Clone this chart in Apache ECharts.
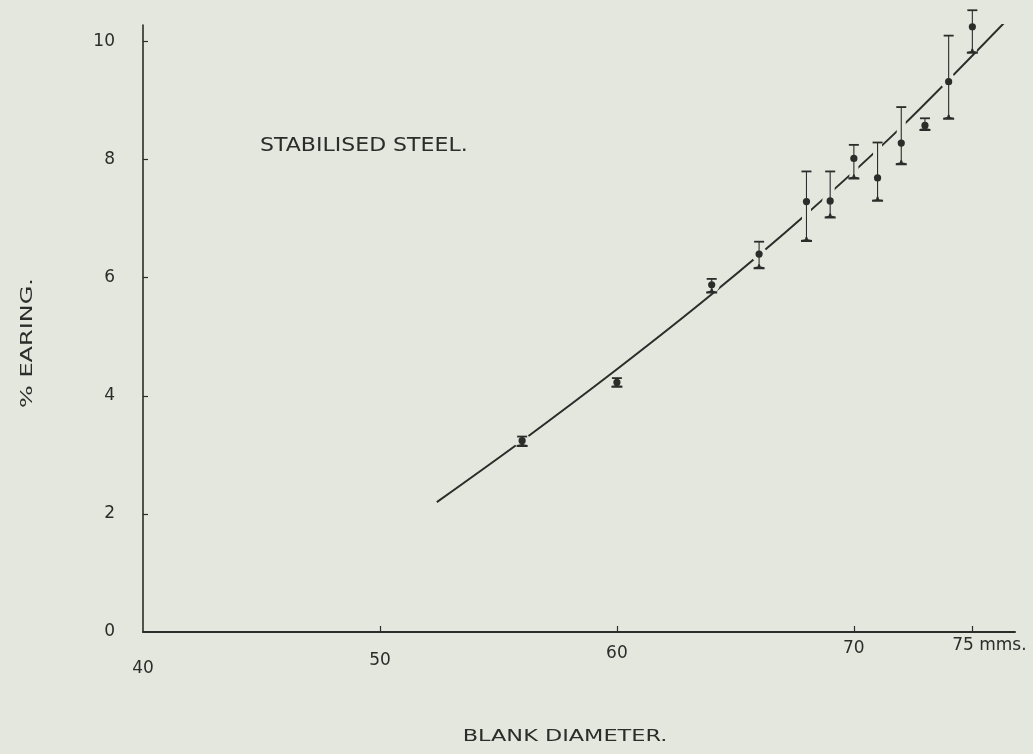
<!DOCTYPE html>
<html>
<head>
<meta charset="utf-8">
<title>Stabilised steel – % earing vs blank diameter</title>
<script src="https://cdn.jsdelivr.net/npm/echarts@6/dist/echarts.min.js"></script>
<style>
  html, body { margin: 0; padding: 0; background: #e3e7de; }
  #chart { width: 1033px; height: 754px; }
</style>
</head>
<body>
<div id="chart"></div>
<script>
// Blank diameter (mm) of each measured set
const diameters = [56, 60, 64, 66, 68, 69, 70, 71, 72, 73, 74, 75];
// Mean % earing and the spread (low / high) of each set
const earingMean = [3.24, 4.23, 5.88, 6.40, 7.29, 7.30, 8.02, 7.69, 8.28, 8.58, 9.32, 10.25];
const earingLow  = [3.16, 4.16, 5.76, 6.17, 6.63, 7.03, 7.69, 7.31, 7.93, 8.51, 8.70, 9.82];
const earingHigh = [3.31, 4.30, 5.98, 6.61, 7.80, 7.80, 8.25, 8.29, 8.89, 8.70, 10.10, 10.53];

// Hand-drawn trend curve through the results
const trendX = [52.4, 56, 60, 64, 68, 72, 76.4];
const trendY = [2.20, 3.24, 4.45, 5.72, 7.08, 8.55, 10.34];

// Axis ticks and labels
const xTickValues = [50, 60, 70, 75];
const xLabelValues = [40, 50, 60, 70, 75];
const xLabelTexts = ['40', '50', '60', '70', '75 mms.'];
const yTickValues = [2, 4, 6, 8, 10];
const yLabelValues = [0, 2, 4, 6, 8, 10];

const INK = '#2c2c2a';
const PAPER = '#e3e7de';
const FONT = '"DejaVu Sans", "Liberation Sans", sans-serif';

const barData = diameters.map((d, i) => [d, earingLow[i], earingHigh[i], earingMean[i]]);
const trendData = trendX.map((x, i) => [x, trendY[i]]);

// per-label offsets: the numerals sit progressively lower towards the origin
const xRich = {
  p0: { padding: [26, 0, 0, 0] },
  p1: { padding: [18, 0, 0, 0] },
  p2: { padding: [11, 0, 0, 0] },
  p3: { padding: [6, 0, 0, 0] },
  p4: { padding: [3, 0, 0, 34] }
};

function renderErrorBar(params, api) {
  const x = api.value(0);
  const pLo = api.coord([x, api.value(1)]);
  const pHi = api.coord([x, api.value(2)]);
  const pM = api.coord([x, api.value(3)]);
  const cx = pM[0];
  const cap = 5;
  return {
    type: 'group',
    children: [
      // paper-coloured halo that breaks the trend line around each bar
      { type: 'line', shape: { x1: cx, y1: pHi[1], x2: cx, y2: pLo[1] },
        style: { stroke: PAPER, lineWidth: 9 } },
      { type: 'circle', shape: { cx: cx, cy: pM[1], r: 8 },
        style: { fill: PAPER } },
      // stem
      { type: 'line', shape: { x1: cx, y1: pHi[1], x2: cx, y2: pLo[1] },
        style: { stroke: INK, lineWidth: 1.1 } },
      // upper cap
      { type: 'line', shape: { x1: cx - cap, y1: pHi[1], x2: cx + cap, y2: pHi[1] },
        style: { stroke: INK, lineWidth: 1.8 } },
      // lower cap, drawn heavier with a small foot
      { type: 'polygon', shape: { points: [
          [cx - cap - 0.5, pLo[1] + 1.5], [cx + cap + 0.5, pLo[1] + 1.5],
          [cx + cap + 0.5, pLo[1] - 0.5], [cx + 1.5, pLo[1] - 1.2],
          [cx + 0.8, pLo[1] - 3.5], [cx - 0.8, pLo[1] - 3.5],
          [cx - 1.5, pLo[1] - 1.2], [cx - cap - 0.5, pLo[1] - 0.5] ] },
        style: { fill: INK } },
      // mean value
      { type: 'circle', shape: { cx: cx, cy: pM[1], r: 3.6 },
        style: { fill: INK } }
    ]
  };
}

const chart = echarts.init(document.getElementById('chart'), null, { renderer: 'canvas' });
chart.setOption({
  backgroundColor: PAPER,
  animation: false,
  textStyle: { fontFamily: FONT, color: INK },
  grid: { left: 143, right: 18, top: 25, bottom: 122, containLabel: false },
  // lettering is drawn wide, so the headings are stretched horizontally
  graphic: [
    { type: 'text', x: 260, y: 146, scaleX: 1.16,
      style: { text: 'STABILISED STEEL.', font: '19px ' + FONT, fill: INK,
        textAlign: 'left', textVerticalAlign: 'middle' } },
    { type: 'text', x: 565, y: 737, scaleX: 1.4,
      style: { text: 'BLANK DIAMETER.', font: '16px ' + FONT, fill: INK,
        textAlign: 'center', textVerticalAlign: 'middle' } },
    { type: 'text', x: 28, y: 343, rotation: Math.PI / 2, scaleX: 1.5,
      style: { text: '% EARING.', font: '16px ' + FONT, fill: INK,
        textAlign: 'center', textVerticalAlign: 'middle' } }
  ],
  xAxis: {
    type: 'value',
    min: 40, max: 76.8, interval: 5,
    axisLine: { show: true, onZero: false, lineStyle: { color: INK, width: 2 } },
    axisTick: { show: true, inside: true, length: 6, customValues: xTickValues,
      lineStyle: { color: INK, width: 1.2 } },
    axisLabel: {
      customValues: xLabelValues,
      margin: 2,
      fontFamily: FONT, fontSize: 17, color: INK,
      rich: xRich,
      formatter: function (v) {
        const i = xLabelValues.indexOf(v);
        return '{p' + i + '|' + xLabelTexts[i] + '}';
      }
    },
    splitLine: { show: false }
  },
  yAxis: {
    type: 'value',
    min: 0, max: 10.28, interval: 2,
    axisLine: { show: true, lineStyle: { color: INK, width: 1.6 } },
    axisTick: { show: true, inside: true, length: 5, customValues: yTickValues,
      lineStyle: { color: INK, width: 1.2 } },
    axisLabel: {
      customValues: yLabelValues,
      margin: 28,
      fontFamily: FONT, fontSize: 17, color: INK
    },
    splitLine: { show: false }
  },
  series: [
    {
      type: 'line',
      data: trendData,
      smooth: 0.3,
      showSymbol: false,
      lineStyle: { color: INK, width: 2 },
      z: 2
    },
    {
      type: 'custom',
      data: barData,
      renderItem: renderErrorBar,
      encode: { x: 0, y: [1, 2, 3] },
      z: 3
    }
  ]
});
</script>
</body>
</html>
